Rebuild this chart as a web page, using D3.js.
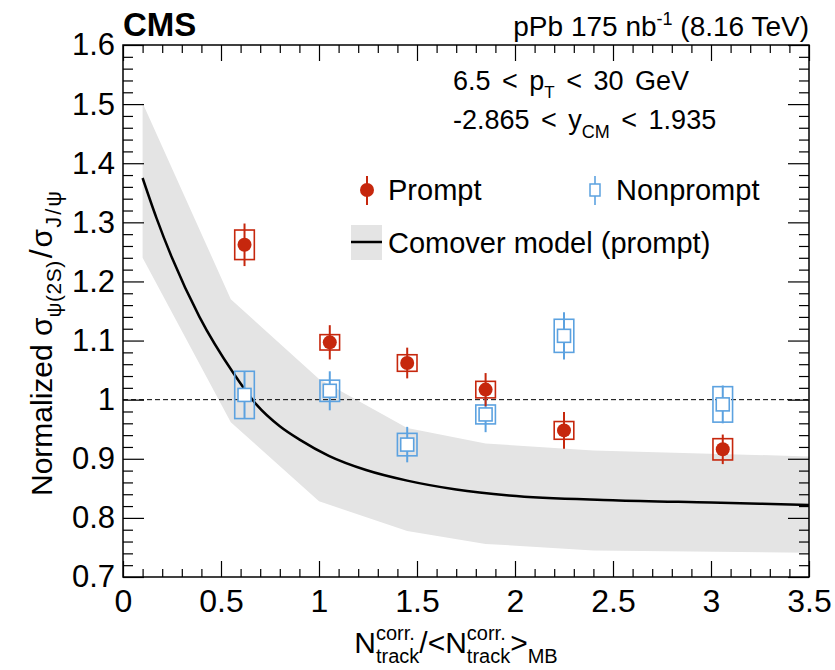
<!DOCTYPE html>
<html>
<head>
<meta charset="utf-8">
<script src="https://cdn.jsdelivr.net/npm/d3@7"></script>
<style>
  body { margin: 0; background: #fff; }
  svg text { font-family: "Liberation Sans", Arial, Helvetica, sans-serif; fill: #000; }
</style>
</head>
<body>
<script>
/*** DATA ***/
const xBins = [0.62, 1.055, 1.45, 1.85, 2.25, 3.06];
const binHalfWidth = 0.05;

const promptY = [1.262, 1.097, 1.062, 1.017, 0.948, 0.916];
const promptStat = [0.036, 0.029, 0.026, 0.028, 0.031, 0.025];
const promptSyst = [0.025, 0.013, 0.014, 0.014, 0.015, 0.018];

const nonpromptY = [1.008, 1.015, 0.924, 0.975, 1.108, 0.992];
const nonpromptStat = [0.040, 0.033, 0.030, 0.030, 0.040, 0.032];
const nonpromptSyst = [0.040, 0.018, 0.019, 0.016, 0.028, 0.030];

/* comover model: central curve + band */
const modelX = [0.10, 0.17, 0.25, 0.39, 0.563, 0.68, 0.80, 0.903, 1.05, 1.24, 1.45, 1.70, 1.97, 2.50, 3.00, 3.50];
const modelY = [1.375, 1.308, 1.240, 1.140, 1.045, 0.992, 0.955, 0.932, 0.905, 0.881, 0.863, 0.848, 0.838, 0.830, 0.826, 0.822];
const bandX = [0.10, 0.55, 1.00, 1.45, 1.85, 2.40, 3.50];
const bandHigh = [1.502, 1.170, 1.035, 0.952, 0.926, 0.914, 0.904];
const bandLow = [1.240, 0.962, 0.828, 0.778, 0.756, 0.745, 0.741];

const xTicks = [0, 0.5, 1, 1.5, 2, 2.5, 3, 3.5];
const xTickLabels = ["0", "0.5", "1", "1.5", "2", "2.5", "3", "3.5"];
const yTicks = [0.7, 0.8, 0.9, 1.0, 1.1, 1.2, 1.3, 1.4, 1.5, 1.6];
const yTickLabels = ["0.7", "0.8", "0.9", "1", "1.1", "1.2", "1.3", "1.4", "1.5", "1.6"];

/*** GRAPH ***/
const W = 835, H = 670;
const frame = { left: 123, right: 809, top: 45, bottom: 577 };
const red = "#c6270d", blue = "#5ca2e0", bandColor = "#e4e4e4";

const svg = d3.select("body").append("svg")
  .attr("width", W).attr("height", H);

const x = d3.scaleLinear().domain([0, 3.5]).range([frame.left, frame.right]);
const y = d3.scaleLinear().domain([0.7, 1.6]).range([frame.bottom, frame.top]);

/* band + curve */
const band = bandX.map((d, i) => ({ x: d, lo: bandLow[i], hi: bandHigh[i] }));
svg.append("path")
  .datum(band)
  .attr("fill", bandColor)
  .attr("d", d3.area().x(d => x(d.x)).y0(d => y(d.lo)).y1(d => y(d.hi)));

/* dashed line at 1 */
svg.append("line")
  .attr("x1", x(0)).attr("x2", x(3.5))
  .attr("y1", y(1)).attr("y2", y(1))
  .attr("stroke", "#000").attr("stroke-width", 1)
  .attr("stroke-dasharray", "5,3");

const model = modelX.map((d, i) => ({ x: d, y: modelY[i] }));
svg.append("path")
  .datum(model)
  .attr("fill", "none").attr("stroke", "#000").attr("stroke-width", 2.5)
  .attr("d", d3.line().x(d => x(d.x)).y(d => y(d.y)).curve(d3.curveMonotoneX));

/* axes: ticks inward on all four sides */
function tickAxes(axisFn, scale, values, size, transform, labels, fs) {
  const ax = axisFn(scale).tickValues(values).tickSizeInner(-size).tickSizeOuter(0);
  if (labels) ax.tickFormat((d, i) => labels[i]).tickPadding(12);
  else ax.tickFormat("");
  const g = svg.append("g").attr("transform", transform).call(ax);
  g.select(".domain").remove();
  g.selectAll("line").attr("stroke", "#000").attr("stroke-width", 1.2);
  g.selectAll("text").attr("font-size", fs || 30).attr("font-family", "Liberation Sans, Arial, sans-serif");
  return g;
}
const xMinor = d3.range(0, 36).map(i => i / 10).filter(v => Math.abs(v * 2 - Math.round(v * 2)) > 1e-6);
const yMinor = d3.range(35, 81).map(i => i / 50).filter(v => Math.abs(v * 10 - Math.round(v * 10)) > 1e-6);

const gx = tickAxes(d3.axisBottom, x, xTicks, 16, `translate(0,${frame.bottom})`, xTickLabels, 32);
gx.selectAll("text").attr("dy", "0.72em").attr("y", 12);
tickAxes(d3.axisBottom, x, xMinor, 8, `translate(0,${frame.bottom})`);
tickAxes(d3.axisTop, x, xTicks, 16, `translate(0,${frame.top})`);
tickAxes(d3.axisTop, x, xMinor, 8, `translate(0,${frame.top})`);

const gy = tickAxes(d3.axisLeft, y, yTicks, 21, `translate(${frame.left},0)`, yTickLabels, 31);
gy.selectAll("text").attr("x", -8);
tickAxes(d3.axisLeft, y, yMinor, 10, `translate(${frame.left},0)`);
tickAxes(d3.axisRight, y, yTicks, 21, `translate(${frame.right},0)`);
tickAxes(d3.axisRight, y, yMinor, 10, `translate(${frame.right},0)`);

/* frame */
svg.append("rect")
  .attr("x", frame.left).attr("y", frame.top)
  .attr("width", frame.right - frame.left).attr("height", frame.bottom - frame.top)
  .attr("fill", "none").attr("stroke", "#000").attr("stroke-width", 1.5);

/* data points */
function drawSeries(vals, stat, syst, color, filled) {
  const pts = xBins.map((d, i) => ({ x: d, y: vals[i], st: stat[i], sy: syst[i] }));
  const g = svg.append("g");
  g.selectAll(".syst").data(pts).enter().append("rect")
    .attr("x", d => x(d.x - binHalfWidth))
    .attr("width", d => x(d.x + binHalfWidth) - x(d.x - binHalfWidth))
    .attr("y", d => y(d.y + d.sy))
    .attr("height", d => y(d.y - d.sy) - y(d.y + d.sy))
    .attr("fill", "none").attr("stroke", color).attr("stroke-width", 1.6);
  g.selectAll(".stat").data(pts).enter().append("line")
    .attr("x1", d => x(d.x)).attr("x2", d => x(d.x))
    .attr("y1", d => y(d.y + d.st)).attr("y2", d => y(d.y - d.st))
    .attr("stroke", color).attr("stroke-width", 2);
  if (filled) {
    g.selectAll(".mk").data(pts).enter().append("circle")
      .attr("cx", d => x(d.x)).attr("cy", d => y(d.y)).attr("r", 7)
      .attr("fill", color);
  } else {
    g.selectAll(".mk").data(pts).enter().append("rect")
      .attr("x", d => x(d.x) - 6.5).attr("y", d => y(d.y) - 6.5)
      .attr("width", 13).attr("height", 13)
      .attr("fill", "#fff").attr("stroke", color).attr("stroke-width", 1.6);
  }
}
drawSeries(nonpromptY, nonpromptStat, nonpromptSyst, blue, false);
drawSeries(promptY, promptStat, promptSyst, red, true);

/* header */
svg.append("text").attr("x", 123).attr("y", 36)
  .attr("font-size", 33).attr("font-weight", "bold").text("CMS");
const lumi = svg.append("text").attr("x", 809).attr("y", 36)
  .attr("font-size", 28).attr("text-anchor", "end");
lumi.append("tspan").text("pPb 175 nb");
lumi.append("tspan").attr("dy", -11).attr("font-size", 18).text("-1");
lumi.append("tspan").attr("dy", 11).text(" (8.16 TeV)");

/* kinematic text */
const t1 = svg.append("text").attr("x", 453).attr("y", 90).attr("font-size", 27).attr("word-spacing", 4);
t1.append("tspan").text("6.5 < p");
t1.append("tspan").attr("dy", 8).attr("font-size", 17).text("T");
t1.append("tspan").attr("dy", -8).text(" < 30 GeV");
const t2 = svg.append("text").attr("x", 453).attr("y", 129).attr("font-size", 27).attr("word-spacing", 4);
t2.append("tspan").text("-2.865 < y");
t2.append("tspan").attr("dy", 9).attr("font-size", 18).text("CM");
t2.append("tspan").attr("dy", -9).text(" < 1.935");

/* legend */
const leg = svg.append("g");
leg.append("line").attr("x1", 367).attr("x2", 367).attr("y1", 176).attr("y2", 205)
  .attr("stroke", red).attr("stroke-width", 2);
leg.append("circle").attr("cx", 367).attr("cy", 190).attr("r", 7).attr("fill", red);
leg.append("text").attr("x", 388).attr("y", 200).attr("font-size", 29).text("Prompt");

leg.append("line").attr("x1", 595).attr("x2", 595).attr("y1", 176).attr("y2", 205)
  .attr("stroke", blue).attr("stroke-width", 1.6);
leg.append("rect").attr("x", 590).attr("y", 184).attr("width", 10).attr("height", 12)
  .attr("fill", "#fff").attr("stroke", blue).attr("stroke-width", 1.5);
leg.append("text").attr("x", 616).attr("y", 200).attr("font-size", 29).text("Nonprompt");

leg.append("rect").attr("x", 351).attr("y", 225).attr("width", 31).attr("height", 35).attr("fill", bandColor);
leg.append("line").attr("x1", 351).attr("x2", 382).attr("y1", 242).attr("y2", 242)
  .attr("stroke", "#000").attr("stroke-width", 2.5);
leg.append("text").attr("x", 388).attr("y", 253).attr("font-size", 29).text("Comover model (prompt)");

/* axis titles */
function layout(g, parts) {
  // parts: {t, size, dy, stack, gap, ls} -- stacked parts share the x of the previous one
  let cx = 0, prevStart = 0, prevW = 0;
  parts.forEach(p => {
    const startX = p.stack ? prevStart : cx + (p.gap || 0);
    const el = g.append("text").attr("x", startX).attr("y", p.dy || 0)
      .attr("font-size", p.size).text(p.t);
    if (p.ls) el.attr("letter-spacing", p.ls);
    const w = el.node().getComputedTextLength();
    if (p.stack) { cx = prevStart + Math.max(prevW, w); }
    else { prevStart = startX; prevW = w; cx = startX + w; }
  });
  return cx;
}

const xt = svg.append("g");
const xw = layout(xt, [
  { t: "N", size: 30 },
  { t: "corr.", size: 20, dy: -13 },
  { t: "track", size: 20, dy: 10, stack: true },
  { t: "/<N", size: 30 },
  { t: "corr.", size: 20, dy: -13 },
  { t: "track", size: 20, dy: 10, stack: true },
  { t: ">", size: 30 },
  { t: "MB", size: 20, dy: 10 }
]);
xt.attr("transform", `translate(${456 - xw / 2},653)`);

const yt = svg.append("g");
layout(yt, [
  { t: "Normalized σ", size: 30 },
  { t: "ψ(2S)", size: 21, dy: 9, ls: 0.5 },
  { t: "/", size: 32, gap: 2 },
  { t: "σ", size: 30, gap: 2 },
  { t: "J/ψ", size: 22, dy: 9, ls: 2, gap: 1 }
]);
yt.attr("transform", "translate(52,496) rotate(-90)");
</script>
</body>
</html>
